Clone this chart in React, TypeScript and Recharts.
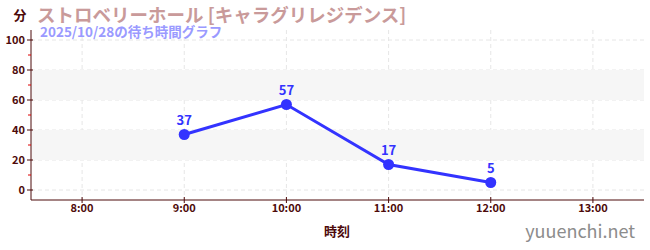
import React from 'react';
import {
  LineChart, Line, XAxis, YAxis, CartesianGrid, ReferenceArea, LabelList,
} from 'recharts';

const HOURS = [9, 10, 11, 12];
const WAIT_MINUTES = [37, 57, 17, 5];
const X_TICKS = [8, 9, 10, 11, 12, 13];
const Y_TICKS = [0, 10, 20, 30, 40, 50, 60, 70, 80, 90, 100];
const Y_GRID = [0, 20, 40, 60, 80, 100];
const BANDS: [number, number][] = [[20, 40], [60, 80]];

const TITLE = 'ストロベリーホール [キャラグリレジデンス]';
const SUBTITLE = '2025/10/28の待ち時間グラフ';

const AXIS_COLOR = '#4d0a0a';
const LINE_COLOR = '#3333ff';
const FONT = '"Noto Sans CJK JP", "Noto Sans", sans-serif';

const data = HOURS.map((h, i) => ({ hour: h, wait: WAIT_MINUTES[i] }));

function YTick({ x, y, payload }: any) {
  const v = payload.value;
  if (v % 20 !== 0) {
    return <line x1={x - 3} x2={x} y1={y} y2={y} stroke="#dd0000" strokeWidth={1} />;
  }
  return (
    <g>
      <line x1={x - 4} x2={x + 2} y1={y} y2={y} stroke={AXIS_COLOR} strokeWidth={1} />
      <text x={x - 6} y={y} dy="0.36em" textAnchor="end" fontSize={11} fontWeight="bold"
        fontFamily={FONT} fill={AXIS_COLOR}>{v}</text>
    </g>
  );
}

function XTick({ x, y, payload }: any) {
  return (
    <g>
      <line x1={x} x2={x} y1={y - 3} y2={y + 3} stroke={AXIS_COLOR} strokeWidth={1} />
      <text x={x} y={y + 12} textAnchor="middle" fontSize={11} fontWeight="bold"
        fontFamily={FONT} fill={AXIS_COLOR}>{`${payload.value}:00`}</text>
    </g>
  );
}

export default function App() {
  return (
    <div style={{ position: 'absolute', left: 0, top: 0, width: 650, height: 250, background: '#fff' }}>
      <LineChart width={650} height={250} data={data} margin={{ top: 30, right: 6, bottom: 0, left: 0 }}>
        {BANDS.map(([a, b]) => (
          <ReferenceArea key={a} y1={a} y2={b} fill="#f6f6f6" fillOpacity={1} stroke="none" />
        ))}
        <CartesianGrid stroke="#e6e6e6" strokeDasharray="4 3"
          horizontalValues={Y_GRID} verticalValues={X_TICKS} />
        <XAxis dataKey="hour" type="number" domain={[7.5, 13.5]} ticks={X_TICKS}
          allowDataOverflow height={50} stroke={AXIS_COLOR} tickLine={false}
          tickSize={0} tickMargin={0} tick={<XTick />} />
        <YAxis type="number" domain={[-20 / 3, 320 / 3]} ticks={Y_TICKS} allowDataOverflow
          width={31} stroke={AXIS_COLOR} tickLine={false} tickSize={0} tickMargin={0}
          interval={0} tick={<YTick />} />
        <Line dataKey="wait" stroke={LINE_COLOR} strokeWidth={3}
          dot={{ r: 5.5, fill: LINE_COLOR, stroke: LINE_COLOR, strokeWidth: 0 }}
          isAnimationActive={false}>
          <LabelList dataKey="wait" position="top" offset={10} fill={LINE_COLOR}
            fontSize={13} fontWeight="bold" fontFamily={FONT} />
        </Line>
      </LineChart>
      <svg width={650} height={250} style={{ position: 'absolute', left: 0, top: 0, pointerEvents: 'none' }}>
        <text x={20} y={20} textAnchor="middle" fontSize={13} fontWeight="bold" fontFamily={FONT}
          fill={AXIS_COLOR}>分</text>
        <text x={37} y={22} fontSize={18.5} fontWeight="bold" fontFamily={FONT} fill="#c99a9a">{TITLE}</text>
        <text x={40} y={37} fontSize={13.5} fontWeight="bold" fontFamily={FONT} fill="#9a9aff">{SUBTITLE}</text>
        <text x={337} y={236} textAnchor="middle" fontSize={13} fontWeight="bold" fontFamily={FONT}
          fill={AXIS_COLOR}>時刻</text>
        <text x={635} y={238} textAnchor="end" fontSize={18} fontFamily={FONT} fill="#8c8c8c">yuuenchi.net</text>
      </svg>
    </div>
  );
}
